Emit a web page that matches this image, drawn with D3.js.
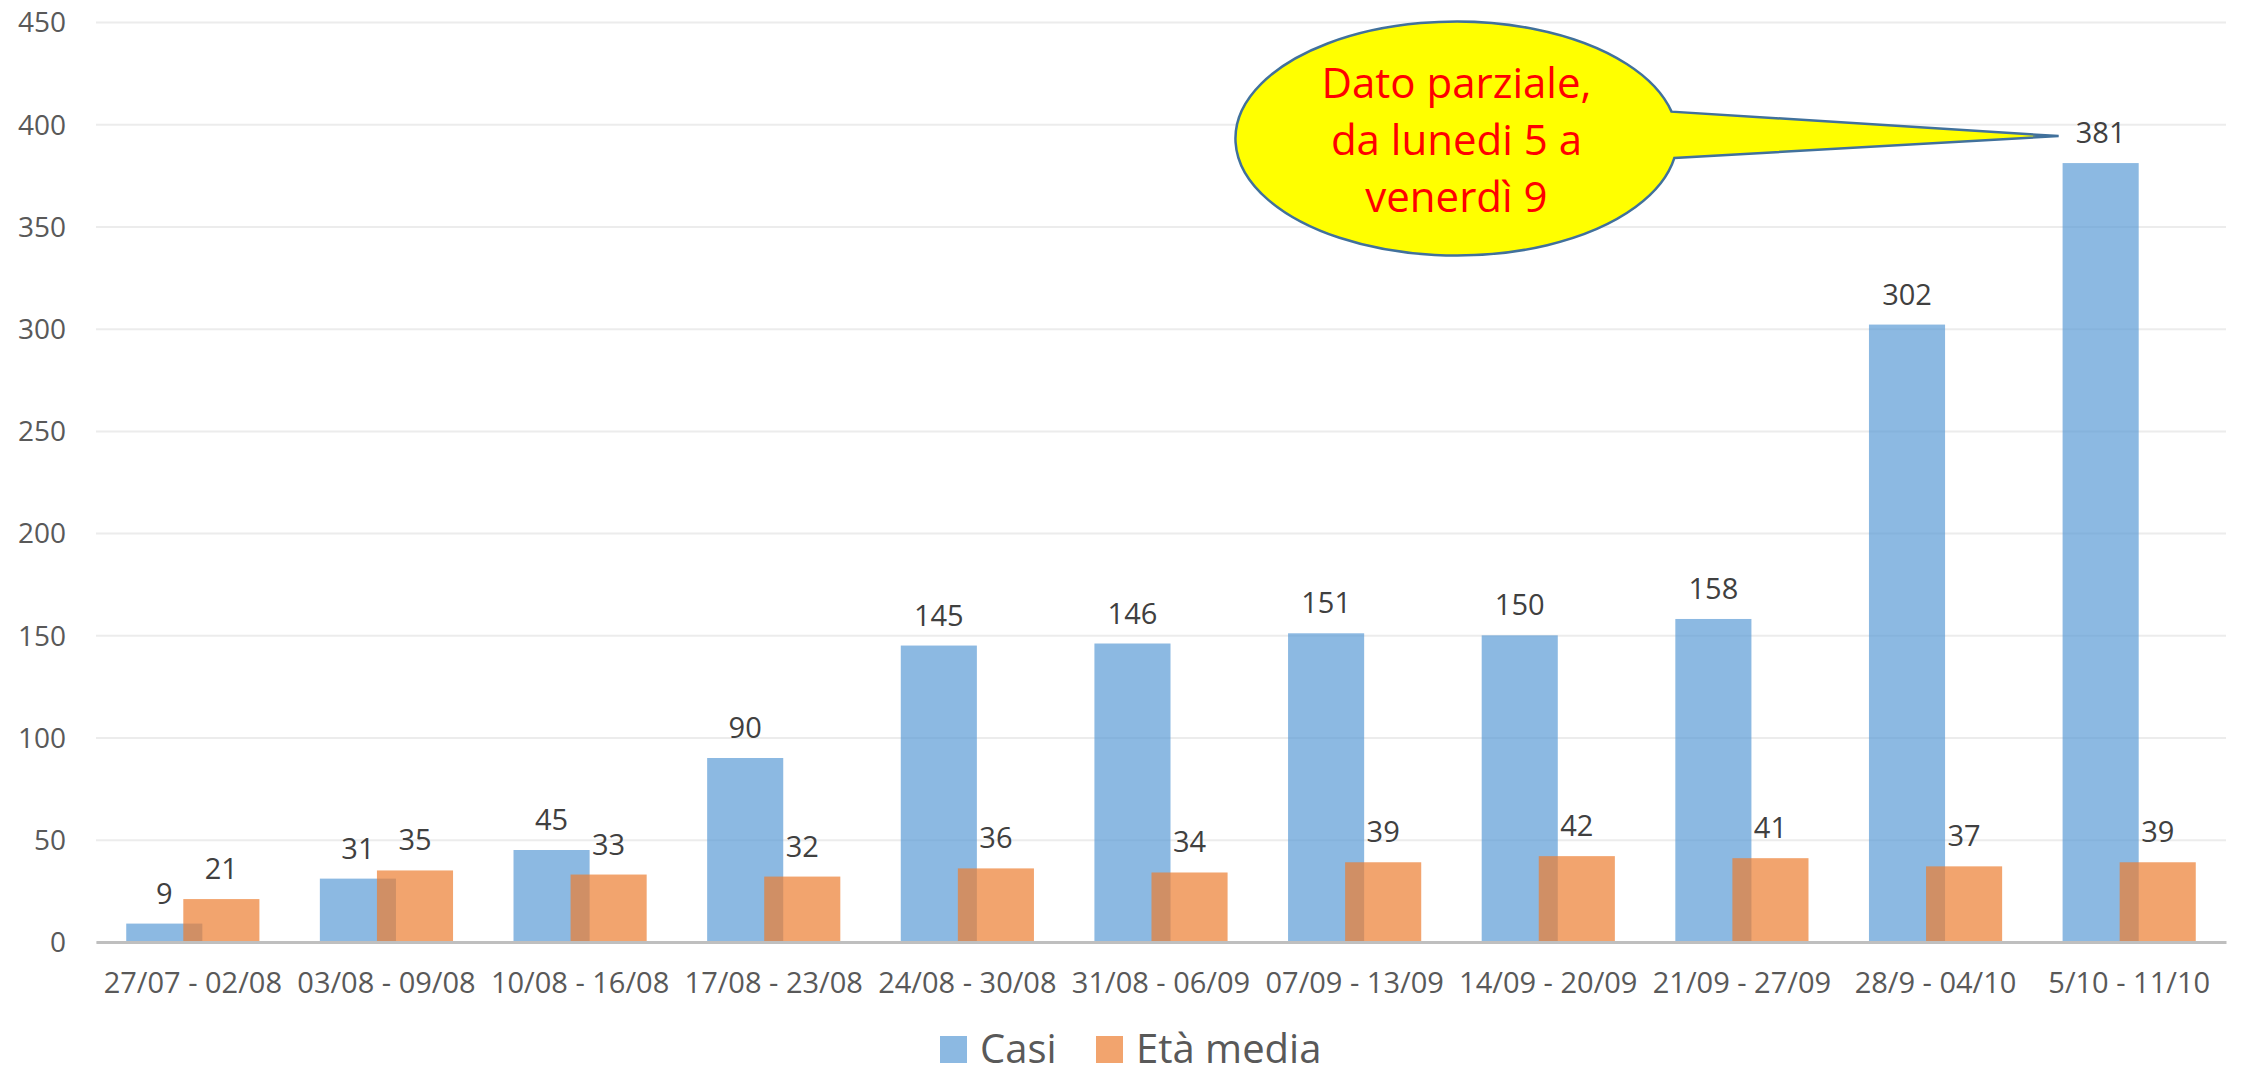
<!DOCTYPE html>
<html>
<head>
<meta charset="utf-8">
<script src="https://cdn.jsdelivr.net/npm/d3@7"></script>
<style>
  body { margin: 0; background: #fff; }
  text { font-family: "Open Sans", "Noto Sans", sans-serif; }
  .grid line { stroke: #ececec; stroke-width: 2; }
  .grid path { display: none; }
  .axis--y text { fill: #595959; font-size: 28px; }
  .axis--x text { fill: #595959; font-size: 29px; }
  .label { fill: #404040; font-size: 29px; text-anchor: middle; }
</style>
</head>
<body>
<svg width="2244" height="1077"></svg>
<script>
var categories = ["27/07 - 02/08", "03/08 - 09/08", "10/08 - 16/08", "17/08 - 23/08",
                  "24/08 - 30/08", "31/08 - 06/09", "07/09 - 13/09", "14/09 - 20/09",
                  "21/09 - 27/09", "28/9 - 04/10", "5/10 - 11/10"];
var casi = [9, 31, 45, 90, 145, 146, 151, 150, 158, 302, 381];
var etaMedia = [21, 35, 33, 32, 36, 34, 39, 42, 41, 37, 39];
var yTicks = [0, 50, 100, 150, 200, 250, 300, 350, 400, 450];
var calloutLines = ["Dato parziale,", "da lunedi 5 a", "venerdì 9"];

var svg = d3.select("svg"),
    margin = {top: 22, right: 18, bottom: 135, left: 96},
    width = +svg.attr("width") - margin.left - margin.right,
    height = +svg.attr("height") - margin.top - margin.bottom;

var blue = "#5b9bd5", orange = "#ed7d31";

var x = d3.scaleBand().domain(categories).range([0, width]).padding(0);
var y = d3.scaleLinear().domain([0, 450]).range([height, 0]);

var barW = x.bandwidth() * 0.393,
    shift = barW * 0.375;   // bars overlap a bit

var g = svg.append("g")
    .attr("transform", "translate(" + margin.left + "," + margin.top + ")");

// gridlines
g.append("g")
    .attr("class", "grid")
    .call(d3.axisLeft(y).tickValues(yTicks).tickSize(-width).tickFormat(""));

// y labels
var yAxis = g.append("g")
    .attr("class", "axis axis--y")
    .call(d3.axisLeft(y).tickValues(yTicks).tickSize(0).tickPadding(30));
yAxis.select(".domain").remove();
yAxis.selectAll("text").attr("dy", "0.35em");

// bars
var series = [
  {name: "Casi", values: casi, color: blue, dx: -shift},
  {name: "Età media", values: etaMedia, color: orange, dx: shift}
];

series.forEach(function(s) {
  g.append("g").selectAll("rect")
      .data(s.values)
      .enter()
      .append("rect")
      .attr("x", function(d, i) { return x(categories[i]) + x.bandwidth() / 2 + s.dx - barW / 2; })
      .attr("y", function(d) { return y(d); })
      .attr("width", barW)
      .attr("height", function(d) { return height - y(d); })
      .attr("fill", s.color)
      .attr("fill-opacity", 0.7);
});

series.forEach(function(s) {
  g.append("g").selectAll("text")
      .data(s.values)
      .enter()
      .append("text")
      .attr("class", "label")
      .attr("x", function(d, i) { return x(categories[i]) + x.bandwidth() / 2 + s.dx; })
      .attr("y", function(d) { return y(d) - 20; })
      .text(function(d) { return d; });
});

// x axis
var xAxis = g.append("g")
    .attr("class", "axis axis--x")
    .attr("transform", "translate(0," + height + ")")
    .call(d3.axisBottom(x).tickSize(0).tickPadding(30));
xAxis.select(".domain").attr("stroke", "#bfbfbf").attr("stroke-width", 3);

// callout pointing at the last (partial) week
var last = categories.length - 1;
var tipX = x(categories[last]) + x.bandwidth() / 2 - shift - 42,
    tipY = y(casi[last]) - 27;
var cx = x(categories[7]) + 5,
    cy = y(393),
    rx = 221, ry = 117;

// angles where the pointer leaves the ellipse
var a1 = -0.232, a2 = 0.167;
var p1 = [cx + rx * Math.cos(a1), cy + ry * Math.sin(a1)],
    p2 = [cx + rx * Math.cos(a2), cy + ry * Math.sin(a2)];

var callout = g.append("g").attr("class", "callout");
callout.append("path")
    .attr("d", "M" + p1[0] + "," + p1[1] +
               " A" + rx + "," + ry + " 0 1 0 " + p2[0] + "," + p2[1] +
               " L" + tipX + "," + tipY + " Z")
    .attr("fill", "#ffff00")
    .attr("stroke", "#41719c")
    .attr("stroke-width", 2.5);

callout.selectAll("text")
    .data(calloutLines)
    .enter()
    .append("text")
    .attr("x", cx)
    .attr("y", function(d, i) { return cy - 41 + i * 57; })
    .attr("text-anchor", "middle")
    .attr("fill", "#ff0000")
    .attr("font-size", 42)
    .text(function(d) { return d; });

// legend
var legend = svg.append("g")
    .attr("transform", "translate(940,1036)");
var legendItems = [
  {name: "Casi", color: blue, x: 0},
  {name: "Età media", color: orange, x: 156}
];
legendItems.forEach(function(l) {
  legend.append("rect")
      .attr("x", l.x)
      .attr("width", 27)
      .attr("height", 27)
      .attr("fill", l.color)
      .attr("fill-opacity", 0.7);
  legend.append("text")
      .attr("x", l.x + 40)
      .attr("y", 27)
      .attr("fill", "#595959")
      .attr("font-size", 40)
      .text(l.name);
});
</script>
</body>
</html>
